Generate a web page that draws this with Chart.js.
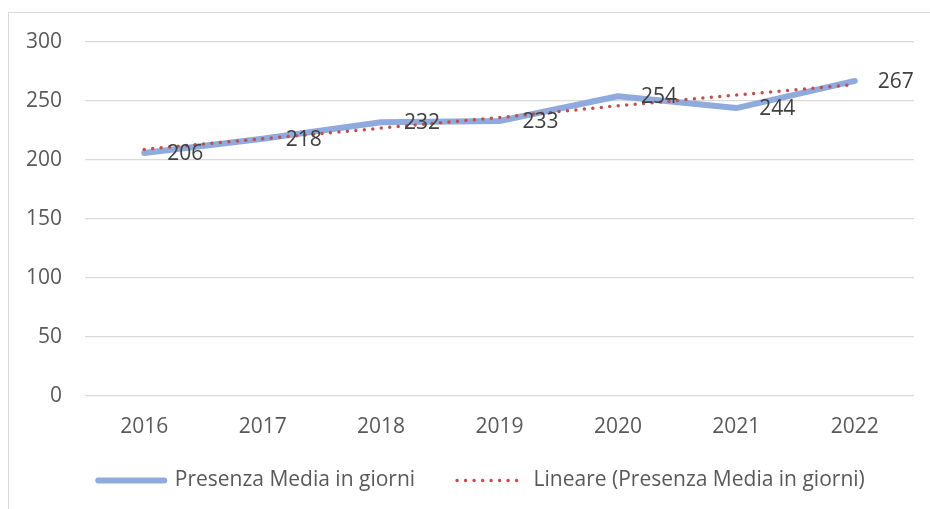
<!DOCTYPE html>
<html lang="it">
<head>
<meta charset="utf-8">
<title>Presenza Media in giorni</title>
<script src="https://cdn.jsdelivr.net/npm/chart.js@4.4.1/dist/chart.umd.min.js"></script>
<style>
    html, body { margin: 0; padding: 0; background: #fff; overflow: hidden; }
    #wrap { position: relative; width: 930px; height: 509px; }
    #frame { position: absolute; left: 8px; top: 12px; width: 1000px; height: 1000px; border: 1.5px solid #d9d9d9; box-sizing: border-box; }
    #chart { position: absolute; left: 0; top: 0; }
</style>
</head>
<body>
<div id="wrap">
    <div id="frame"></div>
    <canvas id="chart" width="930" height="509"></canvas>
</div>
<script>
// --- Data ---
const years = ['2016', '2017', '2018', '2019', '2020', '2021', '2022'];
const presenza = [206, 218, 232, 233, 254, 244, 267];
// linear trend line
const trend = [209, 218, 227, 236, 246, 255, 264];
const yTicks = { min: 0, max: 300, step: 50 };

const FONT = { family: '"Open Sans", sans-serif', size: 21 };
const BLUE = '#8FAADC';
const RED = '#C0504D';

// draws the value next to each point of the first series
const valueLabels = {
    id: 'valueLabels',
    afterDatasetsDraw(chart) {
        const ctx = chart.ctx;
        const meta = chart.getDatasetMeta(0);
        ctx.save();
        ctx.font = `${FONT.size}px ${FONT.family}`;
        ctx.fillStyle = '#404040';
        ctx.textAlign = 'left';
        ctx.textBaseline = 'middle';
        meta.data.forEach((pt, i) => {
            ctx.fillText(String(presenza[i]), pt.x + 23, pt.y + 1);
        });
        ctx.restore();
    }
};

// Excel centres the legend in its (wider) frame, so nudge it into place
const legendShift = {
    id: 'legendShift',
    afterLayout(chart) {
        const lg = chart.legend;
        lg.left += 14.5;
        lg.right += 14.5;
        lg.top -= 13;
        lg.bottom -= 13;
    }
};

new Chart(document.getElementById('chart'), {
    type: 'line',
    data: {
        labels: years,
        datasets: [
            {
                label: 'Presenza Media in giorni',
                data: presenza,
                borderColor: BLUE,
                backgroundColor: BLUE,
                borderWidth: 6,
                borderCapStyle: 'round',
                borderJoinStyle: 'round',
                pointRadius: 0,
                pointHoverRadius: 0,
                tension: 0,
                order: 1
            },
            {
                label: 'Lineare (Presenza Media in giorni)',
                data: trend,
                borderColor: RED,
                backgroundColor: RED,
                borderWidth: 3.5,
                borderDash: [0, 8.5],
                borderCapStyle: 'round',
                pointRadius: 0,
                pointHoverRadius: 0,
                tension: 0,
                order: 0
            }
        ]
    },
    options: {
        responsive: false,
        animation: false,
        devicePixelRatio: 1,
        layout: { padding: { left: 20, right: 16, top: 42, bottom: 3 } },
        scales: {
            x: {
                offset: true,
                grid: { display: false, drawTicks: false },
                border: { display: false },
                ticks: { color: '#595959', font: FONT, padding: 18, maxRotation: 0 },
                afterFit: s => { s.height = 45; }
            },
            y: {
                min: yTicks.min,
                max: yTicks.max,
                grid: { color: '#d9d9d9', lineWidth: 1.3, drawTicks: false },
                border: { display: false },
                ticks: { stepSize: yTicks.step, color: '#595959', font: FONT, padding: 23 },
                afterFit: s => { s.width = 65; }
            }
        },
        plugins: {
            tooltip: { enabled: false },
            legend: {
                position: 'bottom',
                maxHeight: 65,
                labels: {
                    font: FONT,
                    color: '#595959',
                    padding: 42,
                    usePointStyle: true,
                    pointStyleWidth: 66,
                    boxHeight: 21,
                    generateLabels: chart => chart.data.datasets.map((ds, i) => ({
                        text: ds.label,
                        fillStyle: ds.borderColor,
                        strokeStyle: ds.borderColor,
                        fontColor: '#595959',
                        lineWidth: ds.borderWidth,
                        lineDash: ds.borderDash || [],
                        lineCap: 'round',
                        pointStyle: 'line',
                        datasetIndex: i,
                        hidden: false
                    }))
                }
            }
        }
    },
    plugins: [valueLabels, legendShift]
});
</script>
</body>
</html>
